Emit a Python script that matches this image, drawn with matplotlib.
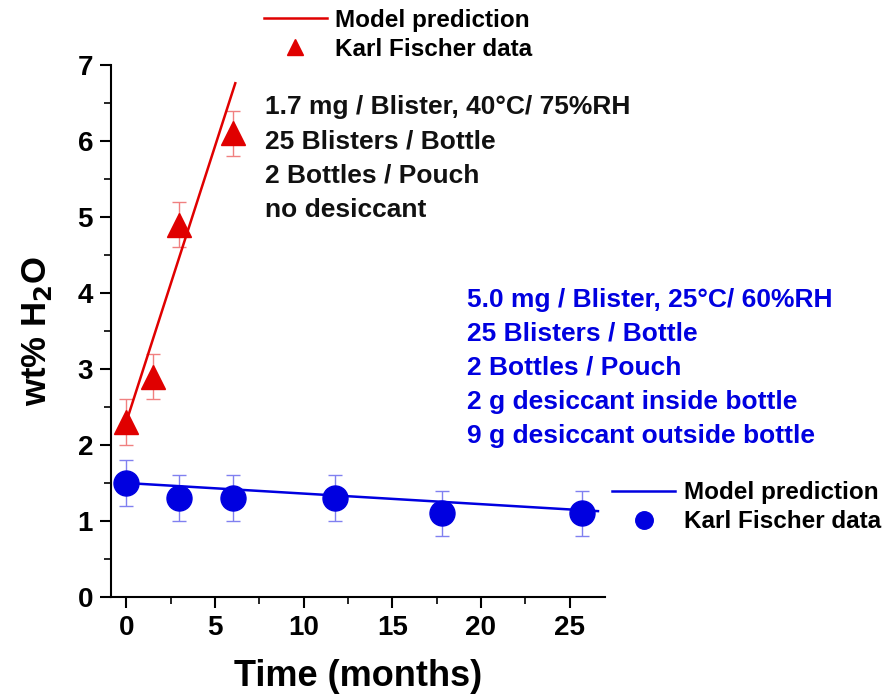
import matplotlib
matplotlib.use("Agg")
import matplotlib.pyplot as plt
from matplotlib.ticker import MultipleLocator

# 1.7 mg / blister, 40C/75%RH (red)
kf_red_t = [0, 1.5, 3, 6]
kf_red_w = [2.3, 2.9, 4.9, 6.1]
kf_red_err = [0.3, 0.3, 0.3, 0.3]
model_red_t = [0, 6.15]
model_red_w = [2.3, 6.76]

# 5.0 mg / blister, 25C/60%RH (blue)
kf_blue_t = [0, 3, 6, 11.8, 17.8, 25.7]
kf_blue_w = [1.5, 1.3, 1.3, 1.3, 1.1, 1.1]
kf_blue_err = [0.3, 0.3, 0.3, 0.3, 0.3, 0.3]
model_blue_t = [0, 26.6]
model_blue_w = [1.5, 1.13]

red_notes = ["1.7 mg / Blister, 40\u00b0C/ 75%RH", "25 Blisters / Bottle",
             "2 Bottles / Pouch", "no desiccant"]
blue_notes = ["5.0 mg / Blister, 25\u00b0C/ 60%RH", "25 Blisters / Bottle",
              "2 Bottles / Pouch", "2 g desiccant inside bottle",
              "9 g desiccant outside bottle"]

RED = "#e00000"
BLUE = "#0000e0"

plt.rcParams['font.family'] = ['Liberation Sans', 'DejaVu Sans']
plt.rcParams['font.weight'] = 'bold'

fig = plt.figure(figsize=(8.82, 6.95), dpi=100)
ax = fig.add_axes([0.126, 0.141, 0.560, 0.7655])

ax.errorbar(kf_red_t, kf_red_w, yerr=kf_red_err, fmt='none', ecolor='#f08080',
            elinewidth=1, capsize=5, capthick=1, zorder=1)
red_line, = ax.plot(model_red_t, model_red_w, color=RED, lw=1.8, zorder=2)
red_pts, = ax.plot(kf_red_t, kf_red_w, '^', color=RED, ms=17, zorder=3)

ax.errorbar(kf_blue_t, kf_blue_w, yerr=kf_blue_err, fmt='none', ecolor='#8080f0',
            elinewidth=1, capsize=5, capthick=1, zorder=1)
blue_line, = ax.plot(model_blue_t, model_blue_w, color=BLUE, lw=1.8, zorder=2)
blue_pts, = ax.plot(kf_blue_t, kf_blue_w, 'o', color=BLUE, ms=18, zorder=3)

ax.set_xlim(-0.85, 27)
ax.set_ylim(0, 7)
ax.spines['top'].set_visible(False)
ax.spines['right'].set_visible(False)
for s in ['left', 'bottom']:
    ax.spines[s].set_linewidth(1.5)
ax.xaxis.set_major_locator(MultipleLocator(5))
ax.xaxis.set_minor_locator(MultipleLocator(2.5))
ax.yaxis.set_major_locator(MultipleLocator(1))
ax.yaxis.set_minor_locator(MultipleLocator(0.5))
ax.tick_params(which='major', direction='out', length=8, width=1.5, labelsize=20, pad=5)
ax.tick_params(which='minor', direction='out', length=5, width=1.2)
for lab in ax.get_xticklabels() + ax.get_yticklabels():
    lab.set_fontweight('bold')

ax.set_xlabel("Time (months)", fontsize=26, fontweight='bold', labelpad=13)
ax.set_ylabel("wt% H$_\\mathbf{2}$O", fontsize=25, fontweight='bold', labelpad=17)

leg1 = fig.legend([red_line, red_pts], ["Model prediction", "Karl Fischer data"],
                  loc='upper left', bbox_to_anchor=(0.274, 1.019), frameon=False,
                  fontsize=17.5, handlelength=2.6, handletextpad=0.35,
                  labelspacing=0.25, markerscale=0.7)
leg2 = fig.legend([blue_line, blue_pts], ["Model prediction", "Karl Fischer data"],
                  loc='upper left', bbox_to_anchor=(0.669, 0.339), frameon=False,
                  fontsize=17.5, handlelength=2.6, handletextpad=0.35,
                  labelspacing=0.25, markerscale=0.7)

ax.text(0.30, 0.863, "\n".join(red_notes), transform=fig.transFigure,
        fontsize=19, fontweight='bold', color='#111111', va='top',
        linespacing=1.54)
ax.text(0.529, 0.586, "\n".join(blue_notes), transform=fig.transFigure,
        fontsize=19, fontweight='bold', color=BLUE, va='top',
        linespacing=1.53)

fig.savefig("out.png", dpi=100)
